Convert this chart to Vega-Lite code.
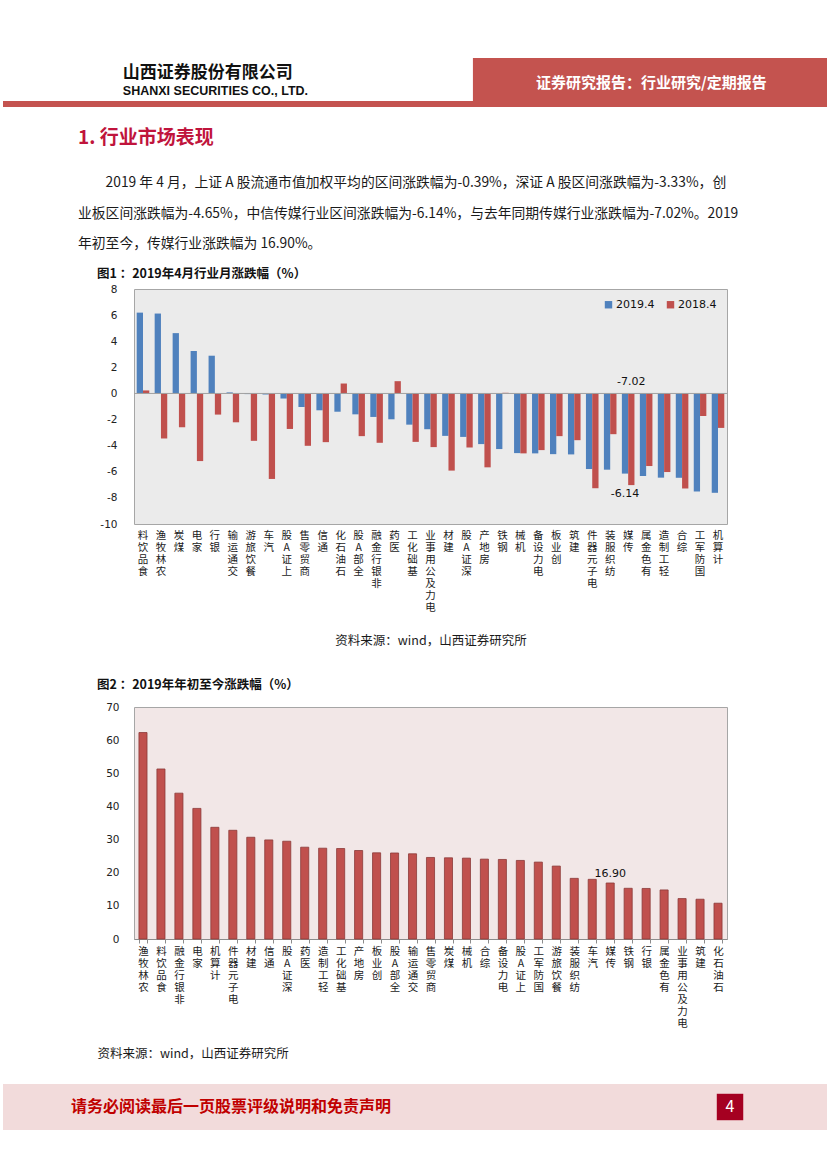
{
  "$schema": "https://vega.github.io/schema/vega-lite/v6.json",
  "padding": {"left": 0, "top": 58, "right": 0, "bottom": 0},
  "background": "white",
  "spacing": 16,
  "resolve": {"legend": {"color": "independent"}, "scale": {"color": "independent"}},
  "config": {
    "view": {"stroke": null},
    "font": "Noto Sans CJK SC",
    "axisY": {"labelOverlap": false},
    "locale": {"number": {"decimal": ".", "thousands": ",", "grouping": [3], "currency": ["", ""], "minus": "-"}}
  },
  "datasets": {
    "header": [
      {"part": "公司", "role": "cn", "text": "山西证券股份有限公司"},
      {"part": "公司", "role": "en", "text": "SHANXI SECURITIES CO., LTD."},
      {"part": "报告", "role": "report", "text": "证券研究报告：行业研究/定期报告"}
    ],
    "m1": [
      {"industry": "食品饮料", "series": "2019.4", "value": 6.19}, {"industry": "食品饮料", "series": "2018.4", "value": 0.23},
      {"industry": "农林牧渔", "series": "2019.4", "value": 6.12}, {"industry": "农林牧渔", "series": "2018.4", "value": -3.45},
      {"industry": "煤炭", "series": "2019.4", "value": 4.62}, {"industry": "煤炭", "series": "2018.4", "value": -2.59},
      {"industry": "家电", "series": "2019.4", "value": 3.25}, {"industry": "家电", "series": "2018.4", "value": -5.18},
      {"industry": "银行", "series": "2019.4", "value": 2.89}, {"industry": "银行", "series": "2018.4", "value": -1.62},
      {"industry": "交通运输", "series": "2019.4", "value": 0.08}, {"industry": "交通运输", "series": "2018.4", "value": -2.21},
      {"industry": "餐饮旅游", "series": "2019.4", "value": -0.05}, {"industry": "餐饮旅游", "series": "2018.4", "value": -3.63},
      {"industry": "汽车", "series": "2019.4", "value": -0.08}, {"industry": "汽车", "series": "2018.4", "value": -6.55},
      {"industry": "上证A股", "series": "2019.4", "value": -0.39}, {"industry": "上证A股", "series": "2018.4", "value": -2.72},
      {"industry": "商贸零售", "series": "2019.4", "value": -1.04}, {"industry": "商贸零售", "series": "2018.4", "value": -4.01},
      {"industry": "通信", "series": "2019.4", "value": -1.29}, {"industry": "通信", "series": "2018.4", "value": -3.73},
      {"industry": "石油石化", "series": "2019.4", "value": -1.40}, {"industry": "石油石化", "series": "2018.4", "value": 0.76},
      {"industry": "全部A股", "series": "2019.4", "value": -1.60}, {"industry": "全部A股", "series": "2018.4", "value": -3.27},
      {"industry": "非银行金融", "series": "2019.4", "value": -1.80}, {"industry": "非银行金融", "series": "2018.4", "value": -3.78},
      {"industry": "医药", "series": "2019.4", "value": -1.98}, {"industry": "医药", "series": "2018.4", "value": 0.94},
      {"industry": "基础化工", "series": "2019.4", "value": -2.39}, {"industry": "基础化工", "series": "2018.4", "value": -3.71},
      {"industry": "电力及公用事业", "series": "2019.4", "value": -2.74}, {"industry": "电力及公用事业", "series": "2018.4", "value": -4.11},
      {"industry": "建材", "series": "2019.4", "value": -3.25}, {"industry": "建材", "series": "2018.4", "value": -5.91},
      {"industry": "深证A股", "series": "2019.4", "value": -3.33}, {"industry": "深证A股", "series": "2018.4", "value": -4.14},
      {"industry": "房地产", "series": "2019.4", "value": -3.88}, {"industry": "房地产", "series": "2018.4", "value": -5.66},
      {"industry": "钢铁", "series": "2019.4", "value": -4.26}, {"industry": "钢铁", "series": "2018.4", "value": 0.05},
      {"industry": "机械", "series": "2019.4", "value": -4.57}, {"industry": "机械", "series": "2018.4", "value": -4.59},
      {"industry": "电力设备", "series": "2019.4", "value": -4.59}, {"industry": "电力设备", "series": "2018.4", "value": -4.34},
      {"industry": "创业板", "series": "2019.4", "value": -4.65}, {"industry": "创业板", "series": "2018.4", "value": -3.27},
      {"industry": "建筑", "series": "2019.4", "value": -4.67}, {"industry": "建筑", "series": "2018.4", "value": -3.58},
      {"industry": "电子元器件", "series": "2019.4", "value": -5.79}, {"industry": "电子元器件", "series": "2018.4", "value": -7.26},
      {"industry": "纺织服装", "series": "2019.4", "value": -5.84}, {"industry": "纺织服装", "series": "2018.4", "value": -3.12},
      {"industry": "传媒", "series": "2019.4", "value": -6.14}, {"industry": "传媒", "series": "2018.4", "value": -7.02},
      {"industry": "有色金属", "series": "2019.4", "value": -6.32}, {"industry": "有色金属", "series": "2018.4", "value": -5.56},
      {"industry": "轻工制造", "series": "2019.4", "value": -6.45}, {"industry": "轻工制造", "series": "2018.4", "value": -6.02},
      {"industry": "综合", "series": "2019.4", "value": -6.46}, {"industry": "综合", "series": "2018.4", "value": -7.28},
      {"industry": "国防军工", "series": "2019.4", "value": -7.51}, {"industry": "国防军工", "series": "2018.4", "value": -1.73},
      {"industry": "计算机", "series": "2019.4", "value": -7.61}, {"industry": "计算机", "series": "2018.4", "value": -2.64}
    ],
    "m2": [
      {"industry": "农林牧渔", "value": 62.3}, {"industry": "食品饮料", "value": 51.3}, {"industry": "非银行金融", "value": 44.0},
      {"industry": "家电", "value": 39.4}, {"industry": "计算机", "value": 33.7}, {"industry": "电子元器件", "value": 32.8},
      {"industry": "建材", "value": 30.7}, {"industry": "通信", "value": 29.9}, {"industry": "深证A股", "value": 29.5},
      {"industry": "医药", "value": 27.7}, {"industry": "轻工制造", "value": 27.4}, {"industry": "基础化工", "value": 27.3},
      {"industry": "房地产", "value": 26.7}, {"industry": "创业板", "value": 26.0}, {"industry": "全部A股", "value": 25.95},
      {"industry": "交通运输", "value": 25.7}, {"industry": "商贸零售", "value": 24.6}, {"industry": "煤炭", "value": 24.5},
      {"industry": "机械", "value": 24.4}, {"industry": "综合", "value": 24.1}, {"industry": "电力设备", "value": 24.0},
      {"industry": "上证A股", "value": 23.7}, {"industry": "国防军工", "value": 23.2}, {"industry": "餐饮旅游", "value": 22.0},
      {"industry": "纺织服装", "value": 18.3}, {"industry": "汽车", "value": 18.0}, {"industry": "传媒", "value": 16.90},
      {"industry": "钢铁", "value": 15.3}, {"industry": "银行", "value": 15.25}, {"industry": "有色金属", "value": 14.8},
      {"industry": "电力及公用事业", "value": 12.2}, {"industry": "建筑", "value": 12.0}, {"industry": "石油石化", "value": 10.8}
    ],
    "footer": [
      {"part": "说明", "text": "请务必阅读最后一页股票评级说明和免责声明"},
      {"part": "页码", "text": "4"}
    ]
  },
  "vconcat": [
    {
      "width": 827,
      "height": 46,
      "data": {"name": "header"},
      "title": {
        "text": "1. 行业市场表现",
        "subtitle": [
          "\u200b\u3000\u30002019 年 4 月，上证 A 股流通市值加权平均的区间涨跌幅为-0.39%，深证 A 股区间涨跌幅为-3.33%，创",
          "业板区间涨跌幅为-4.65%，中信传媒行业区间涨跌幅为-6.14%，与去年同期传媒行业涨跌幅为-7.02%。2019",
          "年初至今，传媒行业涨跌幅为 16.90%。"
        ],
        "orient": "bottom",
        "anchor": "start",
        "frame": "group",
        "dx": 75,
        "offset": 22,
        "font": "Noto Sans CJK SC",
        "fontSize": 19,
        "fontWeight": "bold",
        "color": "#C0143C",
        "subtitleFont": "Noto Sans CJK SC",
        "subtitleFontSize": 13.8,
        "subtitleColor": "#1a1a1a",
        "subtitleLineHeight": 30.5,
        "subtitlePadding": 28
      },
      "layer": [
        {
          "transform": [{"filter": "datum.role === 'report'"}],
          "mark": {"type": "rect", "color": "#C4534F"},
          "encoding": {
            "x": {"field": "part", "type": "nominal", "scale": {"type": "band", "domain": ["公司", "报告"], "paddingInner": 0, "paddingOuter": 0.158, "align": 1}, "axis": null}
          }
        },
        {
          "transform": [{"filter": "datum.role === 'report'"}],
          "mark": {"type": "rule", "color": "#C4534F", "strokeWidth": 6},
          "encoding": {
            "y": {"datum": 0, "type": "quantitative", "scale": {"domain": [0, 1]}, "axis": null}
          }
        },
        {
          "transform": [{"filter": "datum.role === 'cn'"}],
          "mark": {"type": "text", "align": "left", "dx": 7, "dy": -8, "fontSize": 17, "fontWeight": "bold", "color": "#111111"},
          "encoding": {
            "x": {"field": "part", "type": "nominal", "bandPosition": 0, "axis": null},
            "text": {"field": "text"}
          }
        },
        {
          "transform": [{"filter": "datum.role === 'en'"}],
          "mark": {"type": "text", "align": "left", "dx": 7, "dy": 10, "font": "Liberation Sans", "fontSize": 12.5, "fontWeight": "bold", "color": "#111111"},
          "encoding": {
            "x": {"field": "part", "type": "nominal", "bandPosition": 0, "axis": null},
            "text": {"field": "text"}
          }
        },
        {
          "transform": [{"filter": "datum.role === 'report'"}],
          "mark": {"type": "text", "align": "center", "dy": 2, "fontSize": 15, "fontWeight": "bold", "color": "white"},
          "encoding": {
            "x": {"field": "part", "type": "nominal", "axis": null},
            "text": {"field": "text"}
          }
        }
      ]
    },
    {
      "spacing": 30,
      "resolve": {"legend": {"color": "independent"}, "scale": {"color": "independent"}},
      "vconcat": [
        {
          "spacing": 0,
          "resolve": {"legend": {"color": "independent"}, "scale": {"color": "independent"}},
          "hconcat": [
            {"width": 1, "height": 1, "data": {"values": []}, "mark": "point", "encoding": {}},
            {
              "width": 593,
              "height": 235,
              "view": {"fill": "#EBEBEB", "stroke": "#A6A6A6"},
              "title": {"text": "图1 ：2019年4月行业月涨跌幅（%）", "anchor": "start", "frame": "group", "dx": -37, "offset": 4, "font": "Noto Sans CJK SC", "fontSize": 12.5, "fontWeight": "bold", "color": "#111111"},
              "data": {"name": "m1"},
              "layer": [
                {
                  "mark": {"type": "bar"},
                  "encoding": {
                    "x": {
                      "field": "industry", "type": "nominal", "sort": null,
                      "scale": {"domain": ["食品饮料","农林牧渔","煤炭","家电","银行","交通运输","餐饮旅游","汽车","上证A股","商贸零售","通信","石油石化","全部A股","非银行金融","医药","基础化工","电力及公用事业","建材","深证A股","房地产","钢铁","机械","电力设备","创业板","建筑","电子元器件","纺织服装","传媒","有色金属","轻工制造","综合","国防军工","计算机"], "paddingInner": 0.3, "paddingOuter": 0.15},
                      "axis": {
                        "labelExpr": "reverse(split(datum.label, ''))",
                        "labelAngle": 0, "labelBaseline": "top", "labelFont": "Noto Sans CJK SC", "labelFontSize": 10.5, "labelLineHeight": 12,
                        "labelPadding": 6, "labelColor": "#1a1a1a", "labelOverlap": false, "labelBound": false,
                        "ticks": false, "domain": false,
                        "title": "资料来源：wind，山西证券研究所", "titleFont": "Noto Sans CJK SC", "titleFontSize": 12.5, "titleFontWeight": "normal", "titleColor": "#1a1a1a", "titlePadding": 22
                      }
                    },
                    "xOffset": {"field": "series", "type": "nominal", "scale": {"domain": ["2019.4", "2018.4"]}},
                    "y": {
                      "field": "value", "type": "quantitative",
                      "scale": {"domain": [-10, 8]},
                      "axis": {"values": [-10, -8, -6, -4, -2, 0, 2, 4, 6, 8], "tickCount": 20, "grid": false, "ticks": false, "domain": false, "labelOverlap": false, "labelFont": "DejaVu Sans", "labelFontSize": 10.5, "labelColor": "#222222", "labelPadding": 17, "minExtent": 129, "title": null}
                    },
                    "color": {
                      "field": "series", "type": "nominal",
                      "scale": {"domain": ["2019.4", "2018.4"], "range": ["#4F81BD", "#C0504D"]},
                      "legend": {"orient": "top-right", "direction": "horizontal", "title": null, "symbolType": "square", "symbolSize": 55, "labelFont": "DejaVu Sans", "labelFontSize": 11, "labelColor": "#111111", "offset": 10, "columnPadding": 10, "labelOffset": 2}
                    }
                  }
                },
                {
                  "data": {"values": [{"base": 0}]},
                  "mark": {"type": "rule", "color": "#A0A0A0"},
                  "encoding": {"y": {"field": "base", "type": "quantitative"}}
                },
                {
                  "transform": [{"filter": "datum.industry === '传媒' && datum.series === '2019.4'"}],
                  "mark": {"type": "text", "baseline": "middle", "dy": 20, "font": "DejaVu Sans", "fontSize": 11, "color": "#111111"},
                  "encoding": {
                    "x": {"field": "industry", "type": "nominal", "sort": null},
                    "xOffset": {"field": "series", "type": "nominal"},
                    "y": {"field": "value", "type": "quantitative"},
                    "text": {"field": "value", "format": ".2f"}
                  }
                },
                {
                  "transform": [{"filter": "datum.industry === '传媒' && datum.series === '2018.4'"}],
                  "mark": {"type": "text", "baseline": "bottom", "dy": -6, "font": "DejaVu Sans", "fontSize": 11, "color": "#111111"},
                  "encoding": {
                    "x": {"field": "industry", "type": "nominal", "sort": null},
                    "xOffset": {"field": "series", "type": "nominal"},
                    "y": {"datum": 0, "type": "quantitative"},
                    "text": {"field": "value", "format": ".2f"}
                  }
                }
              ]
            }
          ]
        },
        {
          "spacing": 23,
          "vconcat": [
            {
              "spacing": 0,
              "hconcat": [
                {"width": 1, "height": 1, "data": {"values": []}, "mark": "point", "encoding": {}},
                {
                  "width": 593,
                  "height": 232,
                  "view": {"fill": "#F2E7E7", "stroke": "#A6A6A6"},
                  "title": {"text": "图2 ：2019年年初至今涨跌幅（%）", "anchor": "start", "frame": "group", "dx": -37, "offset": 11, "font": "Noto Sans CJK SC", "fontSize": 12.5, "fontWeight": "bold", "color": "#111111"},
                  "data": {"name": "m2"},
                  "layer": [
                    {
                      "mark": {"type": "bar", "color": "#C0504D", "stroke": "#8B3A38", "strokeWidth": 0.8},
                      "encoding": {
                        "x": {
                          "field": "industry", "type": "nominal", "sort": null,
                          "scale": {"domain": ["农林牧渔","食品饮料","非银行金融","家电","计算机","电子元器件","建材","通信","深证A股","医药","轻工制造","基础化工","房地产","创业板","全部A股","交通运输","商贸零售","煤炭","机械","综合","电力设备","上证A股","国防军工","餐饮旅游","纺织服装","汽车","传媒","钢铁","银行","有色金属","电力及公用事业","建筑","石油石化"], "paddingInner": 0.55, "paddingOuter": 0.275},
                          "axis": {
                            "labelExpr": "reverse(split(datum.label, ''))",
                            "labelAngle": 0, "labelBaseline": "top", "labelFont": "Noto Sans CJK SC", "labelFontSize": 10.5, "labelLineHeight": 12,
                            "labelPadding": 3, "labelColor": "#1a1a1a", "labelOverlap": false, "labelBound": false,
                            "ticks": true, "tickBand": "extent", "tickSize": 4, "tickColor": "#8C8C8C", "domain": true, "domainColor": "#8C8C8C",
                            "title": "资料来源：wind，山西证券研究所", "titleFont": "Noto Sans CJK SC", "titleFontSize": 12.5, "titleFontWeight": "normal", "titleColor": "#1a1a1a", "titlePadding": 19,
                            "titleX": -37, "titleAlign": "left", "titleAnchor": "start"
                          }
                        },
                        "y": {
                          "field": "value", "type": "quantitative",
                          "scale": {"domain": [0, 70]},
                          "axis": {"values": [0, 10, 20, 30, 40, 50, 60, 70], "tickCount": 20, "grid": false, "ticks": false, "domain": false, "labelOverlap": false, "labelFont": "DejaVu Sans", "labelFontSize": 10.5, "labelColor": "#222222", "labelPadding": 15, "minExtent": 129, "title": null}
                        }
                      }
                    },
                    {
                      "transform": [{"filter": "datum.industry === '传媒'"}],
                      "mark": {"type": "text", "baseline": "bottom", "dy": -4, "font": "DejaVu Sans", "fontSize": 11, "color": "#111111"},
                      "encoding": {
                        "x": {"field": "industry", "type": "nominal", "sort": null},
                        "y": {"field": "value", "type": "quantitative"},
                        "text": {"field": "value", "format": ".2f"}
                      }
                    }
                  ]
                }
              ]
            },
            {
              "width": 827,
              "height": 46,
              "data": {"name": "footer"},
              "layer": [
                {
                  "data": {"values": [{"band": "页脚"}]},
                  "mark": {"type": "rect", "color": "#F2DBDB"},
                  "encoding": {}
                },
                {
                  "transform": [{"filter": "datum.part === '页码'"}],
                  "mark": {"type": "square", "size": 700, "color": "#A50021", "filled": true, "opacity": 1},
                  "encoding": {
                    "x": {"field": "part", "type": "nominal", "scale": {"type": "point", "domain": ["说明", "页码"], "padding": 0.1275, "align": 0.405}, "axis": null}
                  }
                },
                {
                  "transform": [{"filter": "datum.part === '说明'"}],
                  "mark": {"type": "text", "align": "left", "fontSize": 16, "fontWeight": "bold", "color": "#C00000"},
                  "encoding": {
                    "x": {"field": "part", "type": "nominal", "axis": null},
                    "text": {"field": "text"}
                  }
                },
                {
                  "transform": [{"filter": "datum.part === '页码'"}],
                  "mark": {"type": "text", "align": "center", "fontSize": 16, "color": "white"},
                  "encoding": {
                    "x": {"field": "part", "type": "nominal", "axis": null},
                    "text": {"field": "text"}
                  }
                }
              ]
            }
          ]
        }
      ]
    }
  ]
}
